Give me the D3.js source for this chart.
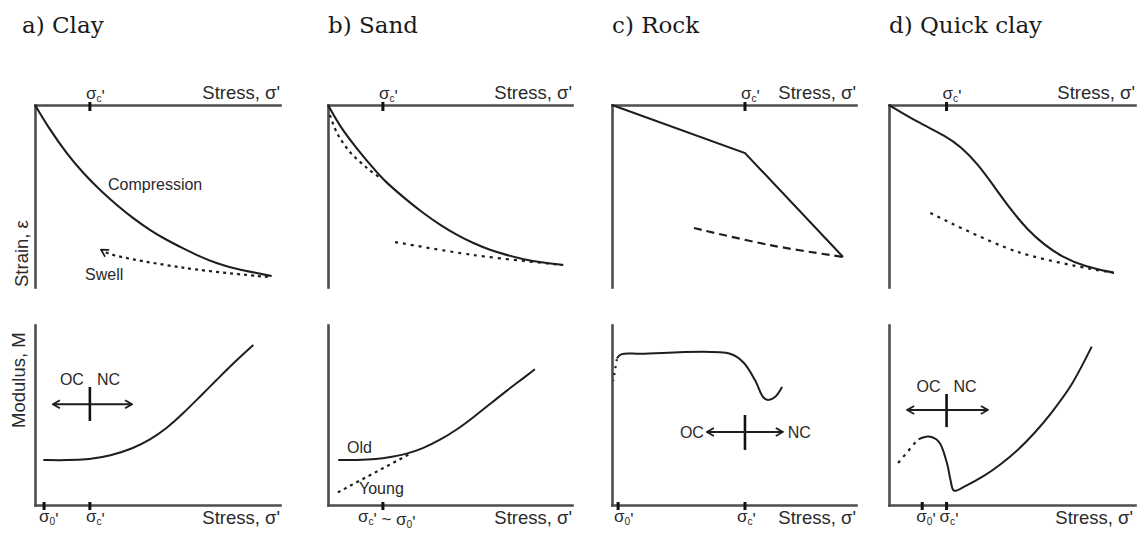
<!DOCTYPE html>
<html><head><meta charset="utf-8">
<script src="https://cdn.jsdelivr.net/npm/d3@7"></script>
<style>body{margin:0;background:#fff}svg{display:block}</style>
</head><body>
<svg id="chart" width="1137" height="533"></svg>
<script>
// ---------------- DATA (stress 0-100 along axis, strain 0-100 downwards, modulus 0-100 upwards) -------------
const panelTitles = ["a) Clay", "b) Sand", "c) Rock", "d) Quick clay"];
const stressLabel = "Stress, σ'";
const strainLabel = "Strain, ε";
const modulusLabel = "Modulus, M";

// tick positions (stress) on top (strain) and bottom (modulus) axes
const topTicks = [[22.4], [22.5], [54.5], [23.4]];
const topTickLabels = [["σ_c'"], ["σ_c'"], ["σ_c'"], ["σ_c'"]];
const bottomTicks = [[3.7, 22.4], [22.5], [2.5, 54.5], [13.5, 23.4]];
const bottomTickLabels = [["σ_0'", "σ_c'"], ["σ_c' ~ σ_0'"], ["σ_0'", "σ_c'"], ["σ_0'", "σ_c'"]];

// a) Clay
const clayCompression = [[0,0],[6.1,13.7],[12.9,26.6],[19.7,37.5],[26.5,46.7],[33.3,54.9],[40.1,62.3],[46.9,68.7],
  [53.7,74.2],[60.5,78.8],[67.3,83.3],[74.1,87],[80.9,89.7],[87.8,91.6],[96.6,94]];
const claySwell = [[95,94.5],[61,89.5],[31,82],[27,79.5]];
const clayModulus = [[3.4,25],[12.9,24.8],[22.4,25.4],[30.6,27.2],[40.1,31.5],[46.9,36.1],[53.8,42.6],[60.5,50.9],
  [67.3,60.2],[74.1,69.4],[80.9,78.7],[89.1,88.9]];

// b) Sand
const sandCompression = [[0,0],[4.9,11.9],[11.7,23.8],[18.6,34.8],[22.7,41.2],[32.2,52.2],[39.1,59.5],[45.9,65.9],
  [52.7,71.4],[59.6,76],[66.4,79.7],[73.2,82.4],[80,84.8],[88.2,86.6],[96.4,87.9]];
const sandFirstLoading = [[0.8,5.5],[3.7,15.4],[9,25.8],[16,34.6],[21.3,40]];
const sandReloading = [[27.5,75.3],[59.4,82.4],[96.3,87.9]];
const sandOldModulus = [[4.2,25],[11.7,25],[20,25.4],[25.4,26.5],[32.2,28.3],[39.1,31.5],[45.9,36.1],[52.7,41.7],
  [59.6,48.7],[66.4,56.1],[73.2,63.5],[80,70.4],[84.8,75.4]];
const sandYoungModulus = [[4,7],[33,28]];

// c) Rock
const rockCompression = [[0,0],[54.5,26.4],[94.7,83.5]];
const rockUnloading = [[33.6,67.6],[64.8,77],[94.7,83.5]];
const rockModulus = [[2,81.5],[4,83.8],[12,84],[48.4,84],[53.7,79.4],[58.6,69.4],[61.9,60],[63.9,58.3],[66.8,60],[69.7,65.6]];
const rockModulusStart = [[2,81],[0.5,69]];

// d) Quick clay
const quickCompression = [[0,0],[11.3,9.2],[23.6,17.4],[29.1,22.9],[35.9,32],[42.8,44.9],[49.6,57.7],[56.4,68.7],
  [63.2,76.9],[70.1,83.3],[79.6,88.8],[91.3,92.1]];
const quickUnloading = [[16.8,59.3],[52.5,80.8],[91.4,92.3]];
const quickModulusStart = [[3.7,23.3],[11.5,36.1]];
const quickModulus = [[12,36.5],[16.1,38],[20.2,35.2],[23.6,23.1],[25,13.9],[26.4,8],[31,10.5],[38.7,16.3],[45.5,22.8],
  [52.3,30.6],[59.1,40],[66,51.2],[74,66.5],[82.4,88]];

// ---------------- LAYOUT / STYLE -------------
const W = 1137, H = 533;
const panelX = [35, 328, 612, 889];
const panelLen = [245, 244, 244, 246];
const topRange = [105, 287];
const botRange = [505, 325];
const axisColor = "#4d4d4d", lineColor = "#1e1e1e", textColor = "#2a2a2a";
const sans = "'Liberation Sans', Arial, sans-serif";
const serif = "'DejaVu Serif', serif";

const svg = d3.select("#chart");
const defs = svg.append("defs");
defs.append("marker").attr("id", "chev")
  .attr("viewBox", "0 0 10 10").attr("refX", 9).attr("refY", 5)
  .attr("markerWidth", 10).attr("markerHeight", 10)
  .attr("markerUnits", "userSpaceOnUse").attr("orient", "auto-start-reverse")
  .append("path").attr("d", "M2,1 L9,5 L2,9").attr("fill", "none")
  .attr("stroke", lineColor).attr("stroke-width", 1.8);

function rich(sel, str) {
  // '_' marks next char as subscript
  let i = 0;
  while (i < str.length) {
    if (str[i] === "_") {
      sel.append("tspan").attr("font-size", "0.6em").attr("dy", 3).text(str[i+1]);
      sel.append("tspan").attr("dy", -3).text("");
      i += 2;
    } else {
      let j = i;
      while (j < str.length && str[j] !== "_") j++;
      sel.append("tspan").text(str.slice(i, j));
      i = j;
    }
  }
}

const curves = {
  basis: d3.curveBasis,
  cr: d3.curveCatmullRom.alpha(0.5),
  linear: d3.curveLinear
};
const strainSeries = [
  [{d: clayCompression, c: "basis"}, {d: claySwell, dash: "3,4", arrow: true, c: "cr"}],
  [{d: sandCompression, c: "basis"}, {d: sandFirstLoading, dash: "3,4", c: "cr"}, {d: sandReloading, dash: "3,5", c: "cr"}],
  [{d: rockCompression, c: "linear"}, {d: rockUnloading, dash: "8,5", c: "cr"}],
  [{d: quickCompression, c: "basis"}, {d: quickUnloading, dash: "3,5", c: "cr"}]
];
const modulusSeries = [
  [{d: clayModulus, c: "basis"}],
  [{d: sandOldModulus, c: "basis"}, {d: sandYoungModulus, dash: "3,4", c: "linear"}],
  [{d: rockModulus, c: "cr"}, {d: rockModulusStart, dash: "2,5", c: "linear"}],
  [{d: quickModulusStart, dash: "3,5", c: "cr"}, {d: quickModulus, c: "cr"}]
];
// OC/NC cross annotations in data units
const crossAnnot = [
  {x: 22.4, y: 56, l: 7.3, r: 39.6, t: 65.6, b: 46.7, labels: "above"},
  null,
  {x: 54.5, y: 40.6, l: 38.9, r: 70, t: 50, b: 30.6, labels: "side"},
  {x: 23.4, y: 52.8, l: 7.4, r: 40.2, t: 61.7, b: 43.3, labels: "above"}
];
const bottomLabelDx = [[-5, -4], [-25], [-4, -8], [-6, -7]];

panelTitles.forEach((title, i) => {
  const x = d3.scaleLinear([0, 100], [panelX[i], panelX[i] + panelLen[i]]);
  const yT = d3.scaleLinear([0, 100], topRange);
  const yB = d3.scaleLinear([0, 100], botRange);
  const g = svg.append("g");

  // title
  g.append("text").attr("x", panelX[i] - (i === 0 ? 13 : 0)).attr("y", 33)
    .attr("font-family", serif).attr("font-size", 23).attr("fill", "#1a1a1a").text(title);

  // axes
  const axT = g.append("g").attr("transform", `translate(0,${topRange[0]})`)
    .call(d3.axisTop(x).tickValues([]).tickSizeOuter(0));
  const axTL = g.append("g").attr("transform", `translate(${panelX[i]},0)`)
    .call(d3.axisLeft(yT).tickValues([]).tickSizeOuter(0));
  const axB = g.append("g").attr("transform", `translate(0,${botRange[0]})`)
    .call(d3.axisBottom(x).tickValues([]).tickSizeOuter(0));
  const axBL = g.append("g").attr("transform", `translate(${panelX[i]},0)`)
    .call(d3.axisLeft(yB).tickValues([]).tickSizeOuter(0));
  [axT, axTL, axB, axBL].forEach(a => a.select(".domain")
    .attr("stroke", axisColor).attr("stroke-width", 2.6).attr("stroke-linecap", "square"));

  // tick marks
  topTicks[i].forEach((v, k) => {
    g.append("rect").attr("x", x(v) - 1.5).attr("y", topRange[0] - 3).attr("width", 3).attr("height", 9).attr("fill", "#111");
    const t = g.append("text").attr("x", x(v) - 4).attr("y", 99)
      .attr("font-family", sans).attr("font-size", 17).attr("fill", textColor);
    rich(t, topTickLabels[i][k]);
  });
  bottomTicks[i].forEach((v, k) => {
    g.append("rect").attr("x", x(v) - 1.5).attr("y", botRange[0] - 3).attr("width", 3).attr("height", 8).attr("fill", "#111");
    const t = g.append("text").attr("x", x(v) + bottomLabelDx[i][k]).attr("y", 522)
      .attr("font-family", sans).attr("font-size", 17).attr("fill", textColor);
    rich(t, bottomTickLabels[i][k]);
  });

  // stress labels
  g.append("text").attr("x", x(100)).attr("y", 99).attr("text-anchor", "end")
    .attr("font-family", sans).attr("font-size", 18.5).attr("fill", textColor).text(stressLabel);
  g.append("text").attr("x", x(100) - (i === 3 ? 2 : 0)).attr("y", 524).attr("text-anchor", "end")
    .attr("font-family", sans).attr("font-size", 18.5).attr("fill", textColor).text(stressLabel);

  // curves
  strainSeries[i].forEach(s => {
    const line = d3.line().x(d => x(d[0])).y(d => yT(d[1])).curve(curves[s.c]);
    g.append("path").attr("d", line(s.d)).attr("fill", "none")
      .attr("stroke", lineColor).attr("stroke-width", s.dash ? 2.2 : 2.1)
      .attr("stroke-dasharray", s.dash || null).attr("marker-end", s.arrow ? "url(#chev)" : null);
  });
  modulusSeries[i].forEach(s => {
    const line = d3.line().x(d => x(d[0])).y(d => yB(d[1])).curve(curves[s.c]);
    g.append("path").attr("d", line(s.d)).attr("fill", "none")
      .attr("stroke", lineColor).attr("stroke-width", s.dash ? 2.2 : 2)
      .attr("stroke-dasharray", s.dash || null);
  });

  // OC / NC cross
  const c = crossAnnot[i];
  if (c) {
    g.append("line").attr("x1", x(c.x)).attr("x2", x(c.x)).attr("y1", yB(c.t)).attr("y2", yB(c.b))
      .attr("stroke", "#111").attr("stroke-width", 2.6);
    g.append("line").attr("x1", x(c.l)).attr("x2", x(c.r)).attr("y1", yB(c.y)).attr("y2", yB(c.y))
      .attr("stroke", lineColor).attr("stroke-width", 2)
      .attr("marker-start", "url(#chev)").attr("marker-end", "url(#chev)");
    const tl = (txt, xx, yy, anchor) => g.append("text").attr("x", xx).attr("y", yy)
      .attr("text-anchor", anchor).attr("font-family", sans).attr("font-size", 16).attr("fill", textColor).text(txt);
    if (c.labels === "above") {
      tl("OC", x(c.x) - 6, yB(c.t) - 2, "end");
      tl("NC", x(c.x) + 7, yB(c.t) - 2, "start");
    } else {
      tl("OC", x(c.l) - 3, yB(c.y) + 6, "end");
      tl("NC", x(c.r) + 5, yB(c.y) + 6, "start");
    }
  }
});

// shared vertical axis labels
svg.append("text").attr("transform", "translate(28,287) rotate(-90)")
  .attr("font-family", sans).attr("font-size", 18.5).attr("fill", textColor).text(strainLabel);
svg.append("text").attr("transform", "translate(25,428) rotate(-90)")
  .attr("font-family", sans).attr("font-size", 18.5).attr("fill", textColor).text(modulusLabel);

// curve annotations
const notes = [
  {t: "Compression", x: 108, y: 190},
  {t: "Swell", x: 85, y: 280},
  {t: "Old", x: 347, y: 453},
  {t: "Young", x: 359, y: 494}
];
svg.selectAll("text.note").data(notes).join("text").attr("class", "note")
  .attr("x", d => d.x).attr("y", d => d.y)
  .attr("font-family", sans).attr("font-size", 16).attr("fill", textColor).text(d => d.t);
</script>
</body></html>
